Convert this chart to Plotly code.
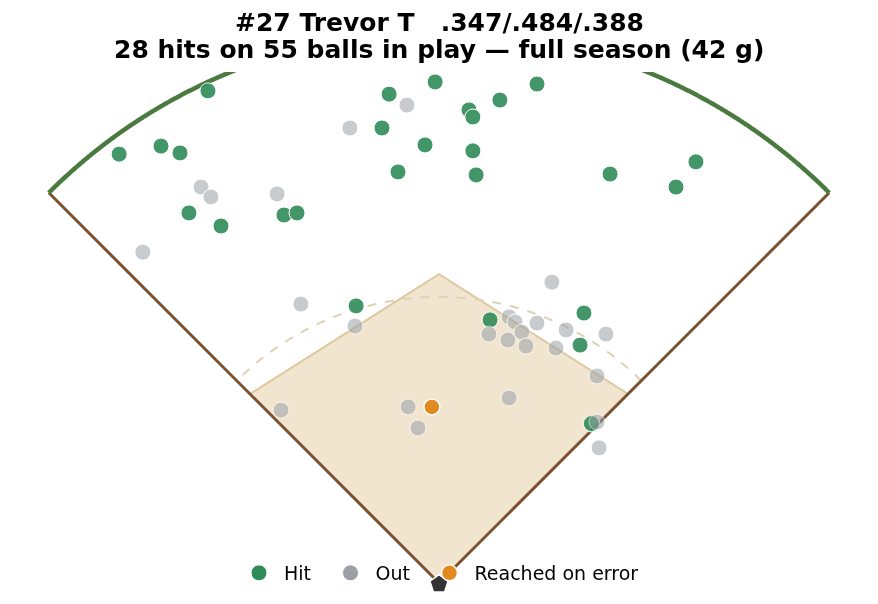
import numpy as np
import plotly.graph_objects as go

# ---- data (feet, home plate at origin) ----
hit_x = [-77.8, -107.7, -93.6, -87.2, -84.2, -73.4, -52.2, -47.8, -16.8, -1.3,
         -19.2, -4.7, -13.8, 10.1, 11.4, 20.5, 33.0, 11.4, 12.5, 57.6,
         79.8, 86.5, -27.9, 17.2, 48.8, 47.5, 51.5, 51.3]
hit_y = [165.7, 144.4, 147.1, 144.8, 124.6, 120.2, 123.9, 124.6, 164.6, 168.7,
         153.2, 147.5, 138.4, 159.3, 156.9, 162.6, 168.0, 145.5, 137.4, 137.7,
         133.3, 141.8, 93.3, 88.6, 90.9, 80.1, 53.5, 53.7]

out_x = [-80.1, -76.8, -54.5, -99.7, -10.8, -30.0, -46.5, -28.3, 23.6, 25.6,
         27.9, 16.8, 23.2, 29.3, 33.0, 42.8, 39.4, 56.2, 53.2, 23.6,
         -53.2, -10.4, -7.1, 53.2, 53.9, 38.0]
out_y = [133.3, 130.0, 131.0, 111.4, 160.9, 153.2, 93.9, 86.5, 89.6, 87.9,
         84.5, 83.8, 81.8, 79.8, 87.5, 85.2, 79.1, 83.8, 69.7, 62.3,
         58.2, 59.3, 52.2, 54.2, 45.5, 101.3]

roe_x = [-2.4]
roe_y = [59.3]

FENCE = 185.8      # fence distance
GRASS = 96.3       # infield grass arc radius
BASE = 90.0        # base distance along foul lines
APEX = 104.0       # back of infield dirt at 2B

title_line1 = "#27 Trevor T\u00a0\u00a0\u00a0.347/.484/.388"
title_line2 = "28 hits on 55 balls in play \u2014 full season (42 g)"
legend_names = ["Hit", "Out", "Reached on error"]

HIT_C, OUT_C, ROE_C = "#2e8b57", "#9aa0a6", "#e08a1f"

# ---- figure ----
SCALE = 2.97  # px per ft
W, H = 878, 604
TOP = 64
HOME_PX, HOME_PY = 431, 575
fig = go.Figure()

# infield dirt
b = BASE / np.sqrt(2)
fig.add_trace(go.Scatter(
    x=[0, b, 0, -b, 0], y=[0, b, APEX, b, 0], mode="lines", fill="toself",
    fillcolor="#f2e5d0", line=dict(color="#dec8a0", width=2),
    hoverinfo="skip", showlegend=False))

# grass arc (dashed)
t = np.linspace(np.pi / 4, 3 * np.pi / 4, 400)
fig.add_trace(go.Scatter(
    x=GRASS * np.cos(t), y=GRASS * np.sin(t), mode="lines",
    line=dict(color="#ddd2b4", width=2, dash="dash", shape="spline"),
    hoverinfo="skip", showlegend=False))

# foul lines
f = FENCE / np.sqrt(2)
fig.add_trace(go.Scatter(
    x=[-f, 0, f], y=[f, 0, f], mode="lines",
    line=dict(color="#7a5230", width=3),
    hoverinfo="skip", showlegend=False))

# fence
fig.add_trace(go.Scatter(
    x=FENCE * np.cos(t), y=FENCE * np.sin(t), mode="lines",
    line=dict(color="#4a7a3f", width=4.5, shape="spline"),
    hoverinfo="skip", showlegend=False))

mk_line = dict(color="white", width=1)
fig.add_trace(go.Scatter(
    x=hit_x, y=hit_y, mode="markers", name=legend_names[0], opacity=0.9,
    marker=dict(size=16, color=HIT_C, line=mk_line), showlegend=False))
fig.add_trace(go.Scatter(
    x=out_x, y=out_y, mode="markers", name=legend_names[1], opacity=0.55,
    marker=dict(size=16, color=OUT_C, line=mk_line), showlegend=False))

# home plate
fig.add_trace(go.Scatter(
    x=[0], y=[-0.4], mode="markers",
    marker=dict(symbol="pentagon", size=19, color="#333333",
                line=dict(color="white", width=1.5)),
    hoverinfo="skip", showlegend=False))

fig.add_trace(go.Scatter(
    x=roe_x, y=roe_y, mode="markers", name=legend_names[2], legendrank=3,
    marker=dict(size=16, color=ROE_C, line=dict(color="white", width=1.5))))

# legend entries (full-strength swatches); en-space pads the item spacing
fig.add_trace(go.Scatter(x=[None], y=[None], mode="markers",
                         name=legend_names[0] + "\u2002", legendrank=1,
                         marker=dict(size=16, color=HIT_C, line=mk_line)))
fig.add_trace(go.Scatter(x=[None], y=[None], mode="markers",
                         name=legend_names[1] + "\u2002", legendrank=2,
                         marker=dict(size=16, color=OUT_C, line=mk_line)))

x_min = -HOME_PX / SCALE
x_max = (W - HOME_PX) / SCALE
y_top = (HOME_PY - TOP) / SCALE
y_bot = (HOME_PY - H) / SCALE
ph = H - TOP


def ypaper(px_from_top):
    return 1 + (TOP - px_from_top) / ph


fig.update_layout(
    width=W, height=H,
    margin=dict(l=0, r=0, t=TOP, b=0),
    paper_bgcolor="white", plot_bgcolor="white",
    font=dict(family="DejaVu Sans", color="black"),
    xaxis=dict(range=[x_min, x_max], visible=False, showgrid=False,
               zeroline=False, fixedrange=True),
    yaxis=dict(range=[y_bot, y_top], visible=False, showgrid=False,
               zeroline=False, fixedrange=True),
    legend=dict(orientation="h", x=HOME_PX / W, xanchor="center",
                y=(H - 565) / ph, yanchor="middle", itemwidth=40,
                bgcolor="rgba(0,0,0,0)", font=dict(size=19)),
    showlegend=True,
    annotations=[
        dict(text=f"<b>{title_line1}</b>", x=0, xref="x", xanchor="center",
             y=ypaper(30.2), yref="paper", yanchor="bottom", showarrow=False,
             borderpad=0,
             font=dict(size=25, family="DejaVu Sans", color="black")),
        dict(text=f"<b>{title_line2}</b>", x=0, xref="x", xanchor="center",
             y=ypaper(56.7), yref="paper", yanchor="bottom", showarrow=False,
             borderpad=0,
             font=dict(size=25, family="DejaVu Sans", color="black")),
    ],
)

fig.write_html("out.html")
